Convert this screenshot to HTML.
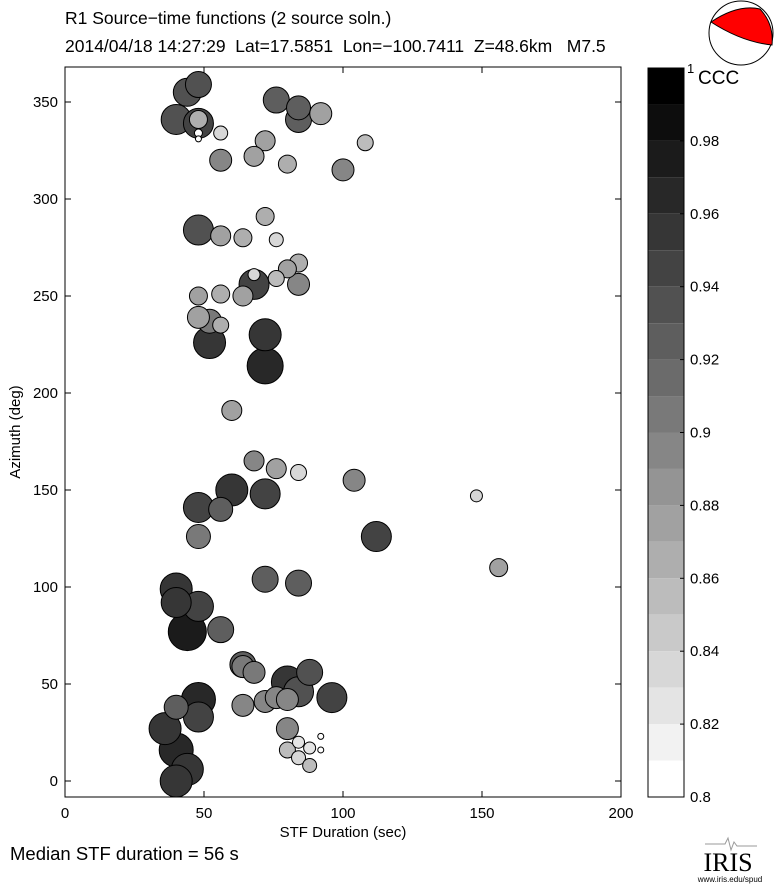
<!DOCTYPE html>
<html><head><meta charset="utf-8"><style>
body{margin:0;background:#fff;}
svg{display:block;font-family:"Liberation Sans",sans-serif;}
</style></head><body>
<svg id="c" width="780" height="887" viewBox="0 0 780 887">
<text x="65" y="24" font-size="17.5">R1 Source−time functions (2 source soln.)</text>
<text x="65" y="52" font-size="17.5" xml:space="preserve">2014/04/18 14:27:29  Lat=17.5851  Lon=−100.7411  Z=48.6km   M7.5</text>
<g>
<circle cx="741" cy="33" r="32" fill="#fff" stroke="#000" stroke-width="1"/>
<path d="M711 22 Q738 4 760 9 Q774 24 772 45 Q742 42 711 22 Z" fill="#f00" stroke="#000" stroke-width="1"/>
</g>
<g id="plot"></g>
<g id="cbar"></g>
<text x="20" y="432" font-size="15" transform="rotate(-90 20 432)" text-anchor="middle">Azimuth (deg)</text>
<text x="343" y="837" font-size="15" text-anchor="middle">STF Duration (sec)</text>
<text x="10" y="860" font-size="18.5">Median STF duration = 56 s</text>
<g>
<path d="M705 844 L725 844 L728 838 L731 850 L734 842 L737 846 L757 846" stroke="#999" fill="none" stroke-width="1"/>
<text x="728" y="871" font-size="26" font-family="Liberation Serif,serif" text-anchor="middle">IRIS</text>
<text x="730" y="882" font-size="8" text-anchor="middle">www.iris.edu/spud</text>
</g>
</svg>
<script>
const durations=[48,44,76,84,92,40,48,48,84,56,48,48,72,108,56,68,80,100,72,48,56,64,76,84,80,76,84,68,68,64,56,48,48,52,56,52,72,72,60,68,76,84,104,60,72,56,48,48,112,72,84,48,40,40,44,56,64,68,64,80,88,84,64,72,76,80,96,48,40,48,36,40,44,40,80,84,80,88,84,88,92,92,148,156];
const azimuths=[359,355,351,347,344,341,339,341,341,334,334,331,330,329,320,322,318,315,291,284,281,280,279,267,264,259,256,256,261,250,251,250,239,237,235,226,230,214,191,165,161,159,155,150,148,140,141,126,126,104,102,90,92,99,77,78,59,56,60,51,56,46,39,41,43,42,43,42,38,33,27,16,6,0,27,20,16,17,12,8,23,16,147,110];
const cccs=[0.93,0.93,0.92,0.92,0.88,0.93,0.945,0.868,0.92,0.84,0.805,0.805,0.88,0.855,0.89,0.88,0.868,0.89,0.868,0.93,0.88,0.868,0.84,0.868,0.88,0.855,0.89,0.945,0.84,0.88,0.868,0.88,0.88,0.905,0.868,0.955,0.955,0.97,0.88,0.89,0.88,0.84,0.89,0.955,0.945,0.92,0.945,0.905,0.945,0.92,0.92,0.95,0.955,0.955,0.98,0.92,0.905,0.905,0.92,0.955,0.93,0.93,0.89,0.89,0.89,0.89,0.945,0.97,0.92,0.945,0.955,0.97,0.955,0.955,0.89,0.83,0.855,0.83,0.84,0.855,0.805,0.805,0.84,0.88];
const sizes=[13,14,13,12,11,15,15,9,13,7,4,3,10,8,11,10,9,11,9,15,10,9,7,9,9,8,11,15,6,10,9,9,11,12,8,16,16,18,10,10,10,8,11,16,15,12,15,12,15,13,13,15,15,16,19,13,11,11,13,16,13,15,11,11,11,11,15,17,12,15,16,17,16,16,11,6,8,6,7,7,3,3,6,9];
const xTicks=[0,50,100,150,200];
const yTicks=[0,50,100,150,200,250,300,350];
const cbTicks=[0.8,0.82,0.84,0.86,0.88,0.9,0.92,0.94,0.96,0.98];
const NS="http://www.w3.org/2000/svg";
const L=65,R=621,T=67,B=797;
const xs=v=>L+(v-0)/200*(R-L);
const ys=v=>781-v*1.94;
const cT=68,cB=797,cL=648,cR=684;
const cy=v=>cB-(v-0.8)/0.2*(cB-cT);
function band(v){let k=Math.floor((1-v)/0.01);k=Math.max(0,Math.min(19,k));const g=Math.round(k/19*255);return `rgb(${g},${g},${g})`;}
function mk(t,a,p){const e=document.createElementNS(NS,t);for(const k in a)e.setAttribute(k,a[k]);p.appendChild(e);return e;}
const plot=document.getElementById('plot');
const frame=mk('rect',{x:L,y:T,width:R-L,height:B-T,fill:'#fff',stroke:'#000','stroke-width':1},plot);


const idx=durations.map((d,i)=>i).sort((a,b)=>sizes[b]-sizes[a]);
idx.forEach(i=>{
 const c=mk('circle',{cx:xs(durations[i]),cy:ys(azimuths[i]),r:sizes[i],fill:band(cccs[i]),stroke:'#000','stroke-width':1},plot);
 
 
});
xTicks.forEach(t=>{
 const x=xs(t);
 mk('line',{x1:x,x2:x,y1:B,y2:B-6,stroke:'#000'},plot);
 mk('line',{x1:x,x2:x,y1:T,y2:T+6,stroke:'#000'},plot);
 const tx=mk('text',{x:x,y:B+21,'font-size':15,'text-anchor':'middle'},plot);tx.textContent=t;
 
 
});
yTicks.forEach(t=>{
 const y=ys(t);
 mk('line',{x1:L,x2:L+6,y1:y,y2:y,stroke:'#000'},plot);
 mk('line',{x1:R,x2:R-6,y1:y,y2:y,stroke:'#000'},plot);
 const tx=mk('text',{x:L-7,y:y+5,'font-size':15,'text-anchor':'end'},plot);tx.textContent=t;
 
 
});
const cb=document.getElementById('cbar');
for(let k=0;k<20;k++){
 const v0=1-k*0.01;
 const r=mk('rect',{x:cL,y:cy(v0),width:cR-cL,height:cy(v0-0.01)-cy(v0),fill:band(v0-0.005)},cb);
 
 
}
mk('rect',{x:cL,y:cT,width:cR-cL,height:cB-cT,fill:'none',stroke:'#000'},cb);
cbTicks.forEach(t=>{
 const y=cy(t);
 mk('line',{x1:cR,x2:cR-4,y1:y,y2:y,stroke:'#000'},cb);
 const tx=mk('text',{x:cR+6,y:y+5,'font-size':15},cb);tx.textContent=t;
 
 
});
const one=mk('text',{x:cR+3,y:cT+5,'font-size':13},cb);one.textContent='1';


const ccc=mk('text',{x:cR+14,y:cT+16,'font-size':19},cb);ccc.textContent='CCC';


</script>
</body></html>
